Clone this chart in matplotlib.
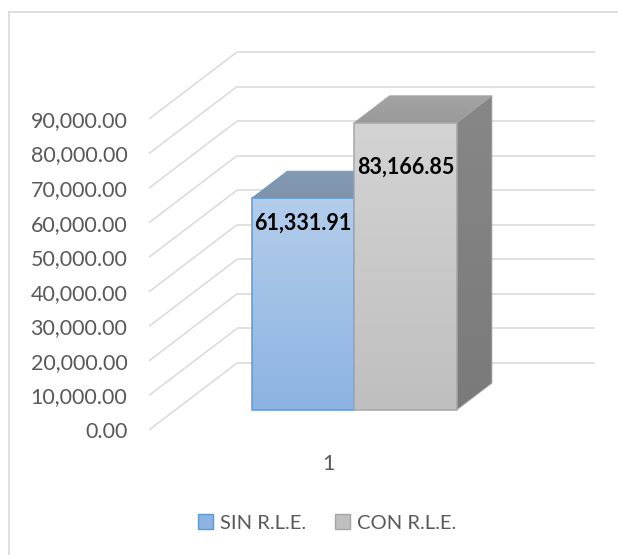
import numpy as np
import matplotlib
matplotlib.use("Agg")
import matplotlib.pyplot as plt
from matplotlib.patches import Polygon, Patch
from matplotlib.lines import Line2D
from matplotlib.colors import LinearSegmentedColormap

# ---- data ----
categories = ["1"]
series = ["SIN R.L.E.", "CON R.L.E."]
values = [61331.91, 83166.85]
yticks = [0, 10000, 20000, 30000, 40000, 50000, 60000, 70000, 80000, 90000]

# ---- style ----
plt.rcParams['font.family'] = ['Lato', 'DejaVu Sans']
TXT = "#595959"
GRID = "#d9d9d9"
front_top = ["#b3cdeb", "#d3d3d3"]
front_bot = ["#8db3e2", "#bfbfbf"]
top_col = ["#8399b2", "#a3a3a3"]
top_col2 = ["#7f93ab", "#9a9a9a"]
side_col = ["#6f87a6", "#878787"]
side_col2 = ["#6a819e", "#7a7a7a"]
edge_col = ["#5b9bd5", "#a5a5a5"]
label_drop = [7200, 12850]   # label placement below bar top (style)

W, H = 618, 555
fig = plt.figure(figsize=(W / 100, H / 100), dpi=100)
fig.patch.set_facecolor("white")

# geometry in pixels -> axes placement
front_w_px, depth_x_px, depth_y_px, vrange_px = 358, 88, 67, 311
ymax = yticks[-1]
DX = depth_x_px / front_w_px
DY = depth_y_px * ymax / vrange_px
ax = fig.add_axes([149 / W, 125 / H, (front_w_px + depth_x_px) / W,
                   (vrange_px + depth_y_px) / H])
ax.set_xlim(0, 1 + DX)
ax.set_ylim(0, ymax + DY)
for s in ax.spines.values():
    s.set_visible(False)
ax.patch.set_alpha(0)

# grid: left wall diagonals and back wall lines
for v in yticks:
    ax.plot([0, DX], [v, v + DY], color=GRID, lw=1.1, zorder=1, clip_on=False,
            solid_capstyle="butt")
    ax.plot([DX, 1 + DX], [v + DY, v + DY], color=GRID, lw=1.1, zorder=1,
            clip_on=False, solid_capstyle="butt")

ax.set_yticks(yticks)
ax.set_yticklabels([f"{v:,.2f}" for v in yticks], color=TXT, fontsize=15.5)
ax.tick_params(axis="y", length=0, pad=15.5)
ax.set_xticks([0.5])
ax.set_xticklabels(categories, color=TXT, fontsize=15.5)
ax.tick_params(axis="x", length=0, pad=17)


def grad_poly(verts, c1, c2, edge=None, lw=0, z=3):
    verts = np.array(verts)
    poly = Polygon(verts, closed=True, facecolor="none", edgecolor="none",
                   zorder=z)
    ax.add_patch(poly)
    cmap = LinearSegmentedColormap.from_list("g", [c2, c1])
    grad = np.linspace(0, 1, 64).reshape(-1, 1)
    x0, x1 = verts[:, 0].min(), verts[:, 0].max()
    y0, y1 = verts[:, 1].min(), verts[:, 1].max()
    im = ax.imshow(grad, cmap=cmap, extent=[x0, x1, y0, y1], origin="lower",
                   aspect="auto", interpolation="bilinear", zorder=z)
    im.set_clip_path(poly)
    if edge is not None:
        ax.add_patch(Polygon(verts, closed=True, facecolor="none",
                             edgecolor=edge, lw=lw, zorder=z + 0.1,
                             joinstyle="miter"))


center = 0.5
bar_w = 0.2858
d0, d1 = 0.3, 0.7
n = len(values)
for i, v in enumerate(values):
    xl = center - bar_w * n / 2 + i * bar_w
    xr = xl + bar_w
    fx0, fx1 = xl + d0 * DX, xr + d0 * DX
    bx0, bx1 = xl + d1 * DX, xr + d1 * DX
    fy0, by0 = d0 * DY, d1 * DY
    z = 3 + i
    # side
    grad_poly([(fx1, fy0), (bx1, by0), (bx1, v + by0), (fx1, v + fy0)],
              side_col[i], side_col2[i], edge=edge_col[i], lw=0.6, z=z)
    # top
    grad_poly([(fx0, v + fy0), (fx1, v + fy0), (bx1, v + by0), (bx0, v + by0)],
              top_col[i], top_col2[i], edge=edge_col[i], lw=0.6, z=z + 0.2)
    # front
    grad_poly([(fx0, fy0), (fx1, fy0), (fx1, v + fy0), (fx0, v + fy0)],
              front_top[i], front_bot[i], edge=edge_col[i], lw=1.1, z=z + 0.4)
    ax.text((fx0 + fx1) / 2, v + fy0 - label_drop[i], f"{v:,.2f}",
            ha="center", va="center", fontsize=15.5, fontweight="bold",
            color="black", zorder=10)

ax.set_xlim(0, 1 + DX)
ax.set_ylim(0, ymax + DY)

# legend
handles = [Patch(facecolor=front_bot[i], edgecolor=edge_col[i], lw=1.0)
           for i in range(n)]
fig.legend(handles, series, loc="center", bbox_to_anchor=(327 / W, 1 - 523 / H),
           ncol=2, frameon=False, fontsize=14.5, labelcolor=TXT,
           handlelength=0.75, handleheight=0.75, handletextpad=0.35,
           columnspacing=1.4)

# chart border (left and top visible)
fig.add_artist(Line2D([9 / W, 9 / W], [0, 1 - 12 / H], color=GRID, lw=1.2,
                      transform=fig.transFigure))
fig.add_artist(Line2D([9 / W, 1], [1 - 12 / H, 1 - 12 / H], color=GRID, lw=1.2,
                      transform=fig.transFigure))

fig.savefig("out.png", dpi=100, facecolor="white")
